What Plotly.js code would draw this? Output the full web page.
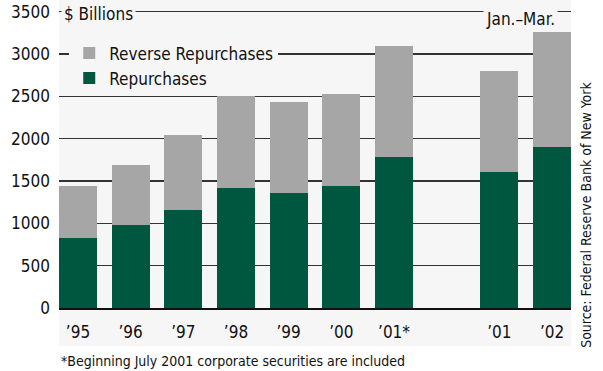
<!DOCTYPE html>
<html>
<head>
<meta charset="utf-8">
<script src="https://cdn.plot.ly/plotly-3.0.1.min.js"></script>
<style>
html,body{margin:0;padding:0;background:#fff;}
#wrap{position:relative;width:603px;height:371px;}
#bgpanel{position:absolute;left:59px;top:0;width:512px;height:346px;background:#f6f6f6;}
#chart{position:absolute;left:0;top:0;width:603px;height:371px;}
</style>
</head>
<body>
<div id="wrap"><div id="bgpanel"></div><div id="chart"></div></div>
<script>
// Data ($ Billions)
var years = ["’95", "’96", "’97", "’98", "’99", "’00", "’01*", "’01", "’02"];
var repurchases = [824, 978, 1155, 1415, 1356, 1438, 1785, 1604, 1900];
var totals = [1438, 1687, 2041, 2514, 2431, 2526, 3093, 2798, 3259];
var reverseRepurchases = totals.map(function (t, i) { return t - repurchases[i]; });
var gapAfterIndex = 6; // blank slot before the Jan.–Mar. bars

var positions = years.map(function (y, i) { return i > gapAfterIndex ? i + 1 : i; });

var FONT = "'DejaVu Sans Condensed', 'Liberation Sans Narrow', Arial, sans-serif";
var GREEN = "#00573f";
var GRAY = "#a6a6a6";
var BG = "#f6f6f6";
var INK = "#111111";

var traces = [
  { type: "bar", name: "Repurchases", x: positions, y: repurchases,
    marker: { color: GREEN, line: { width: 0 } }, hoverinfo: "y" },
  { type: "bar", name: "Reverse Repurchases", x: positions, y: reverseRepurchases,
    marker: { color: GRAY, line: { width: 0 } }, hoverinfo: "y" }
];

var layout = {
  width: 603, height: 371,
  margin: { l: 59, r: 32, t: 10, b: 63, pad: 0 },
  paper_bgcolor: "rgba(0,0,0,0)",
  plot_bgcolor: BG,
  barmode: "stack",
  bargap: 0.279,
  font: { family: FONT, size: 17, color: INK },
  showlegend: true,
  legend: {
    x: 0.02, xanchor: "left", y: 0.915, yanchor: "top",
    bgcolor: BG, borderwidth: 0, traceorder: "reversed",
    font: { family: FONT, size: 17, color: INK },
    itemclick: false
  },
  xaxis: {
    range: [-0.36, 9.36], tickmode: "array", tickvals: positions, ticktext: years,
    showgrid: false, zeroline: false, showline: true, linecolor: "#111", linewidth: 2,
    ticks: "", ticklabelstandoff: 8, tickfont: { family: FONT, size: 17, color: INK },
    fixedrange: true
  },
  yaxis: {
    range: [0, 3520], dtick: 500, tick0: 0,
    showgrid: true, gridcolor: "#333", gridwidth: 1.3,
    zeroline: false, showline: false, ticks: "", ticklabelstandoff: 8,
    tickfont: { family: FONT, size: 17, color: INK }, fixedrange: true
  },
  annotations: [
    { text: "$ Billions", xref: "paper", yref: "paper", x: 0.004, y: 0.987,
      xanchor: "left", yanchor: "middle", showarrow: false, bgcolor: BG, borderpad: 2,
      font: { family: FONT, size: 17, color: INK } },
    { text: "Jan.–Mar.", xref: "paper", yref: "paper", x: 0.974, y: 0.97,
      xanchor: "right", yanchor: "middle", showarrow: false, bgcolor: BG, borderpad: 2,
      font: { family: FONT, size: 17, color: INK } },
    { text: "Source: Federal Reserve Bank of New York", xref: "paper", yref: "paper",
      x: 1.029, y: 0.312, xanchor: "center", yanchor: "middle", textangle: -90, showarrow: false,
      font: { family: FONT, size: 14, color: INK } },
    { text: "*Beginning July 2001 corporate securities are included", xref: "paper", yref: "paper",
      x: 0.0, y: -0.178, xanchor: "left", yanchor: "middle", showarrow: false,
      font: { family: FONT, size: 14, color: INK } }
  ]
};

Plotly.newPlot("chart", traces, layout, { displayModeBar: false, staticPlot: true });
</script>
</body>
</html>
